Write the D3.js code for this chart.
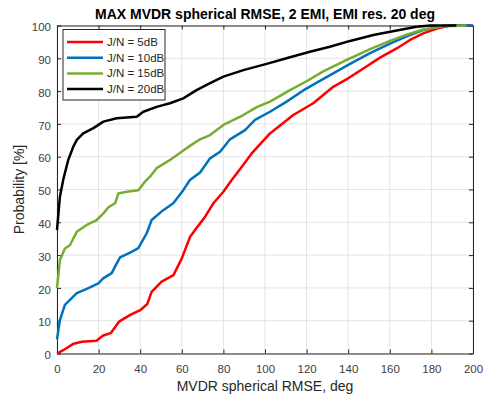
<!DOCTYPE html>
<meta charset="utf-8">
<html>
<head>
<script src="https://d3js.org/d3.v7.min.js"></script>
<style>
  body { margin: 0; background: white; }
  text { font-family: "Liberation Sans", Arial, sans-serif; }
</style>
</head>
<body>
<div id="chart"></div>
<script>
// series data: [RMSE deg, probability %]
const seriesNames = ["J/N = 5dB", "J/N = 10dB", "J/N = 15dB", "J/N = 20dB"];
const seriesColors = ["#ff0000", "#0072bd", "#77ac30", "#000000"];

const jn5 = [[0,0],[3,1],[8,3],[12,3.6],[19,3.9],[22,5.4],[26,6.3],[29.8,9.7],[35,11.7],[40,13.2],[43.4,15.1],[45.5,18.8],[50.3,21.9],[56,23.9],[60,29],[64,35.6],[67,38.2],[71,41.5],[75.2,45.8],[80,49.3],[84,52.9],[87.6,55.9],[93.6,61],[102.4,67.1],[113.6,72.7],[123.2,76.3],[132.8,81.3],[140,83.9],[147.3,86.9],[155.3,90.2],[163.3,93],[169.7,95.6],[176.1,97.6],[182.6,99.1],[189,100],[200,100]];
const jn10 = [[0,4.3],[1.4,10.2],[3.8,14.8],[9.5,18.4],[14.3,19.7],[19.9,21.4],[22.2,22.9],[26.3,24.5],[27.9,26.5],[30.3,29.3],[35.9,31],[39.1,32.1],[43.1,36.6],[45.5,40.7],[51.1,43.7],[55.9,45.8],[60.7,49.8],[63.9,52.9],[68.8,55.2],[73.6,59.5],[78.4,61.5],[83.2,65.3],[90.4,68.1],[95.2,71.2],[102.4,73.7],[110.4,76.8],[118.4,80.2],[124.9,82.6],[132.8,85.4],[140.9,88.3],[150.5,91.6],[160.1,94.5],[168.1,96.7],[176.1,98.6],[184.1,99.8],[190,100],[200,100]];
const jn15 = [[0,19.9],[1.4,28.5],[3.8,32],[6.2,33],[9.5,37.1],[14.3,39.2],[19.1,40.7],[22.3,42.7],[24.7,44.6],[27.9,45.8],[29.5,48.8],[33.5,49.3],[39.1,49.8],[42.3,52.4],[44.7,53.9],[47.9,56.5],[54.3,59],[59.9,61.5],[63.9,63.3],[68.8,65.3],[73.6,66.6],[80,69.7],[89.6,72.7],[96,75.1],[102.4,76.8],[112,80.3],[120,83],[128,86],[139.3,89.5],[150.5,92.8],[160.1,95.3],[168.1,97.2],[176.1,98.8],[185.7,99.8],[197,100]];
const jn20 = [[0,37.6],[1.4,47.8],[3,53],[5.4,59],[7.8,63],[9.5,65.1],[12.6,67.1],[17.5,68.7],[22.3,70.7],[28.7,71.7],[38.3,72.2],[41.5,73.7],[47.9,75.2],[54.3,76.3],[60.7,77.8],[67.1,80.3],[73.6,82.4],[80,84.4],[89.6,86.4],[100.8,88.3],[112,90.3],[121.6,92],[131.2,93.5],[140.9,95.3],[152.1,97.1],[163.3,98.5],[172.9,99.6],[179.4,100],[192,100]];
const seriesData = [jn5, jn10, jn15, jn20];

const xTicks = [0, 20, 40, 60, 80, 100, 120, 140, 160, 180, 200];
const yTicks = [0, 10, 20, 30, 40, 50, 60, 70, 80, 90, 100];

const width = 486, height = 401;
const margin = {left: 57, right: 13, top: 25.5, bottom: 47.5};
const plotW = width - margin.left - margin.right;
const plotH = height - margin.top - margin.bottom;

const svg = d3.select("#chart").append("svg")
    .attr("width", width)
    .attr("height", height);

const x = d3.scaleLinear().domain([0, 200]).range([0, plotW]);
const y = d3.scaleLinear().domain([0, 100]).range([plotH, 0]);

const g = svg.append("g")
    .attr("transform", "translate(" + margin.left + "," + margin.top + ")");

// grid
g.append("g").selectAll("line").data(xTicks).enter().append("line")
    .attr("x1", d => x(d)).attr("x2", d => x(d))
    .attr("y1", 0).attr("y2", plotH)
    .attr("stroke", "#e3e3e3").attr("stroke-width", 1);
g.append("g").selectAll("line").data(yTicks).enter().append("line")
    .attr("x1", 0).attr("x2", plotW)
    .attr("y1", d => y(d)).attr("y2", d => y(d))
    .attr("stroke", "#e3e3e3").attr("stroke-width", 1);

// axes (ticks inside, like matlab)
const axisColor = "#262626";
function styleAxis(sel) {
    sel.selectAll("path").attr("stroke", axisColor);
    sel.selectAll("line").attr("stroke", axisColor);
    sel.selectAll("text").attr("fill", "#404040").style("font-size", "11.5px")
        .style("font-family", "'Liberation Sans', Arial, sans-serif");
}
const xAxis = g.append("g").attr("transform", "translate(0," + plotH + ")")
    .call(d3.axisBottom(x).tickValues(xTicks).tickSizeInner(-4).tickSizeOuter(0).tickPadding(11));
styleAxis(xAxis);
const yAxis = g.append("g")
    .call(d3.axisLeft(y).tickValues(yTicks).tickSizeInner(-4).tickSizeOuter(0).tickPadding(6));
styleAxis(yAxis);
yAxis.selectAll("text").attr("dy", "0.45em");
const xTop = g.append("g")
    .call(d3.axisTop(x).tickValues(xTicks).tickSizeInner(-4).tickSizeOuter(0).tickFormat(""));
styleAxis(xTop);
const yRight = g.append("g").attr("transform", "translate(" + plotW + ",0)")
    .call(d3.axisRight(y).tickValues(yTicks).tickSizeInner(-4).tickSizeOuter(0).tickFormat(""));
styleAxis(yRight);

// lines
const line = d3.line().x(d => x(d[0])).y(d => y(d[1]));
seriesData.forEach((s, i) => {
    g.append("path").datum(s)
        .attr("fill", "none")
        .attr("stroke", seriesColors[i])
        .attr("stroke-width", 2.5)
        .attr("stroke-linejoin", "round")
        .attr("d", line);
});

// legend
const leg = svg.append("g").attr("transform", "translate(63,29.5)");
leg.append("rect").attr("width", 102).attr("height", 70.5)
    .attr("fill", "white").attr("stroke", axisColor).attr("stroke-width", 1);
seriesNames.forEach((n, i) => {
    const yy = 12.5 + i * 15.7;
    leg.append("line").attr("x1", 4).attr("x2", 40).attr("y1", yy).attr("y2", yy)
        .attr("stroke", seriesColors[i]).attr("stroke-width", 2.5);
    leg.append("text").attr("x", 44).attr("y", yy + 4)
        .attr("fill", axisColor).style("font-size", "11.5px").text(n);
});

// title and labels
svg.append("text").attr("x", margin.left + plotW / 2).attr("y", 19)
    .attr("text-anchor", "middle").attr("fill", "black")
    .style("font-size", "14px").style("font-weight", "bold")
    .text("MAX MVDR spherical RMSE, 2 EMI, EMI res. 20 deg");
svg.append("text").attr("x", margin.left + plotW / 2).attr("y", 391)
    .attr("text-anchor", "middle").attr("fill", axisColor)
    .style("font-size", "14px")
    .text("MVDR spherical RMSE, deg");
svg.append("text")
    .attr("transform", "translate(24," + (margin.top + plotH / 2) + ") rotate(-90)")
    .attr("text-anchor", "middle").attr("fill", axisColor)
    .style("font-size", "14px")
    .text("Probability [%]");
</script>
</body>
</html>
